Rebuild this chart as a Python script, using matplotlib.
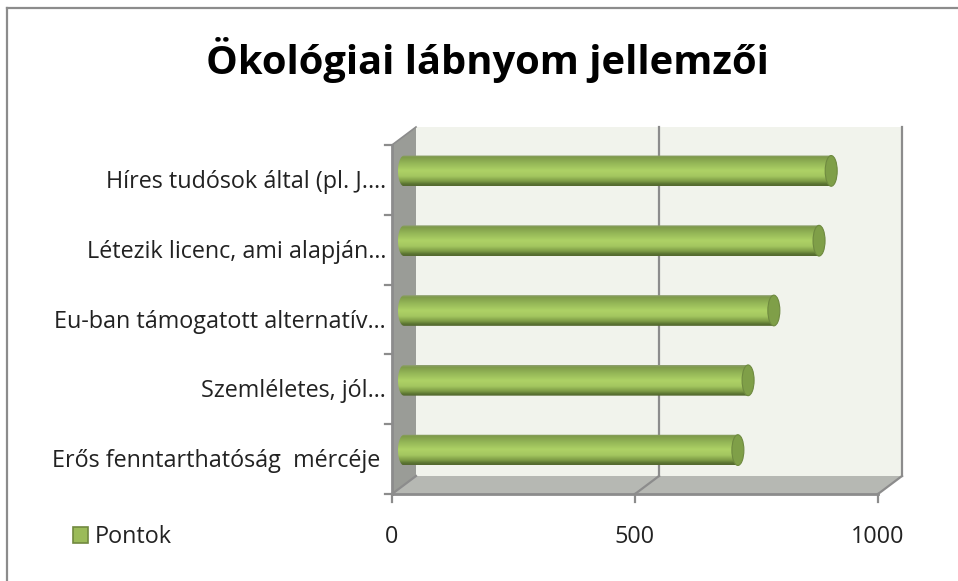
# -*- coding: utf-8 -*-
import numpy as np
import matplotlib
matplotlib.use('Agg')
import matplotlib.pyplot as plt
from matplotlib.colors import LinearSegmentedColormap
from matplotlib.patches import Ellipse, Patch, PathPatch
from matplotlib.path import Path
from matplotlib.transforms import ScaledTranslation

plt.rcParams['font.family'] = ['Open Sans', 'DejaVu Sans']

categories = ['Erős fenntarthatóság  mércéje ', 'Szemléletes, jól…', 'Eu-ban támogatott alternatív…',
              'Létezik licenc, ami alapján…', 'Híres tudósok által (pl. J.…']
points = [687, 708, 761, 854, 879]
x_ticks = [0, 500, 1000]
title = 'Ökológiai lábnyom jellemzői'
series_name = 'Pontok'

W, H = 958, 581
left, right, top, bottom = 392, 878, 145, 494
depth_x, depth_y = 24, 18
dpi = 100
label_size = 16.8

fig = plt.figure(figsize=(W / dpi, H / dpi), dpi=dpi)
ax = fig.add_axes([left / W, (H - bottom) / H, (right - left) / W, (bottom - top) / H])
ax.set_xlim(0, 1000)
ax.set_ylim(-0.5, 4.5)
ax.patch.set_visible(False)
for s in ax.spines.values():
    s.set_visible(False)

# shifted transforms for the 3d look, offsets in pixels
def shifted(dx, dy):
    return ax.transData + ScaledTranslation(dx / dpi, dy / dpi, fig.dpi_scale_trans)

back = shifted(depth_x, depth_y)
mid = shifted(depth_x / 2, depth_y / 2)
x0, x1 = ax.get_xlim()
y0, y1 = ax.get_ylim()
dxv = depth_x / (right - left) * 1000
dyv = depth_y / (bottom - top) * 5

# walls
ax.fill([x0, x1, x1, x0], [y0, y0, y1, y1], color='#f1f3ec', transform=back, zorder=1, lw=0, clip_on=False)
ax.fill([x0, x1, x1 + dxv, x0 + dxv], [y0, y0, y0 + dyv, y0 + dyv], color='#b6b8b3', zorder=2, lw=0, clip_on=False)
ax.fill([x0, x0 + dxv, x0 + dxv, x0], [y0, y0 + dyv, y1 + dyv, y1], color='#9a9c97', zorder=2, lw=0, clip_on=False)

grid_c = '#8c8c8c'
for t in x_ticks:
    if t > 0:
        ax.plot([t, t], [y0, y1], color=grid_c, lw=1.6, transform=back, zorder=3, clip_on=False)
    ax.plot([t, t + dxv], [y0, y0 + dyv], color=grid_c, lw=1.6, zorder=3, clip_on=False)
    ax.plot([t, t], [y0, y0 - 0.115], color=grid_c, lw=1.6, zorder=3, clip_on=False)
    ax.text(t, y0 - 0.61, str(t), ha='center', va='center', fontsize=label_size, color='#222222')
ax.plot([x0, x1], [y0, y0], color=grid_c, lw=2, zorder=3, clip_on=False)
ax.plot([x0, x0], [y0, y1], color=grid_c, lw=2, zorder=3, clip_on=False)
ax.plot([x0, x0 + dxv], [y1, y1 + dyv], color=grid_c, lw=1.2, zorder=3, clip_on=False)
for k in np.arange(y0, y1 + 0.5):
    ax.plot([x0 - 14, x0], [k, k], color=grid_c, lw=1.6, zorder=3, clip_on=False)

# cylinders
cyl = LinearSegmentedColormap.from_list('cyl', [(0, '#8f9f72'), (0.06, '#7f9b4a'), (0.25, '#93b556'),
                                                (0.5, '#aed266'), (0.68, '#a4c760'), (0.85, '#7d9b45'),
                                                (0.94, '#5a7332'), (1, '#55692f')])
grad = np.linspace(0, 1, 64).reshape(-1, 1)
bar_h = 0.44
cap_w = 12 / (right - left) * 1000
bars = ax.barh(range(len(points)), points, height=bar_h, color='none', zorder=4)
for rect in bars:
    v = rect.get_width()
    yc = rect.get_y() + bar_h / 2
    a = np.linspace(np.pi / 2, 3 * np.pi / 2, 30)
    xs = np.r_[v, cap_w / 2 * np.cos(a), v]
    ys = np.r_[yc + bar_h / 2, yc + bar_h / 2 * np.sin(a), yc - bar_h / 2]
    clip = PathPatch(Path(np.c_[xs, ys]), transform=mid, fc='none', ec='none')
    ax.add_patch(clip)
    im = ax.imshow(grad, cmap=cyl, aspect='auto', extent=[-cap_w, v, yc - bar_h / 2, yc + bar_h / 2],
                   transform=mid, zorder=5)
    im.set_clip_path(clip)
    ax.add_patch(Ellipse((v, yc), cap_w, bar_h, transform=mid, fc='#7f9f48', ec='#6f8a40', lw=0.8, zorder=6, clip_on=False))
ax.set_xlim(x0, x1)
ax.set_ylim(y0, y1)

ax.set_xticks([])
ax.set_yticks([])
for i, c in enumerate(categories):
    ax.text(x0 - 12, i - 0.03, c, ha='right', va='center', fontsize=label_size, color='#222222')

fig.text(487 / W, 1 - 60 / H, title, ha='center', va='center', fontsize=28.7, fontweight='bold', color='black')
fig.legend(handles=[Patch(fc='#9bbb59', ec='#71893f', lw=1.2, label=series_name)], loc='center left',
           bbox_to_anchor=(73 / W, 1 - 537 / H), frameon=False, fontsize=label_size, handlelength=0.64,
           handleheight=0.64, handletextpad=0.3, borderpad=0, borderaxespad=0, labelcolor='#222222')

# outer frame of the picture
fig.add_artist(plt.Line2D([7 / W, 7 / W], [0, 1 - 8 / H], color='#8c8c8c', lw=1.6))
fig.add_artist(plt.Line2D([7 / W, 1], [1 - 8 / H, 1 - 8 / H], color='#8c8c8c', lw=1.6))

fig.savefig('out.png', dpi=dpi)
